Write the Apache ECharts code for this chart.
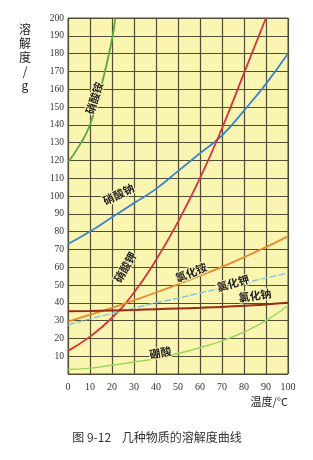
<!DOCTYPE html>
<html>
<head>
<meta charset="utf-8">
<script src="https://cdn.jsdelivr.net/npm/echarts@6/dist/echarts.min.js"></script>
<style>
	html, body { margin: 0; padding: 0; background: #fff; }
	#chart { width: 313px; height: 460px; }
</style>
</head>
<body>
<div id="chart"></div>
<script>
	/* temperature points, degrees C */
	var temps = [0, 10, 20, 30, 40, 50, 60, 70, 80, 90, 100];
	var xTicks = ['0', '10', '20', '30', '40', '50', '60', '70', '80', '90', '100'];

	/* solubility values (g) */
	var nh4no3 = [[0, 119], [5, 128], [10, 140], [15, 161], [20, 188], [21.5, 200]];
	var nano3 = [73, 80, 88, 96, 104, 114, 124, 134, 148, 163, 180];
	var kno3 = [13, 21, 31.6, 45.8, 64, 85.5, 110, 138, 169, 200];
	var nh4cl = [29.4, 33.3, 37.2, 41.4, 45.8, 50.4, 55.2, 60.2, 65.6, 71.3, 77.3];
	var kcl = [27.6, 31, 34, 37, 40, 42.6, 45.5, 48.3, 51.1, 54, 56.7];
	var nacl = [35.2, 35.4, 35.7, 36, 36.4, 36.8, 37.2, 37.7, 38.4, 39.1, 40];
	var boric = [2.5, 3.3, 5, 6.7, 8.7, 11.5, 14.8, 18.6, 23.6, 30, 38.5];

	/* curve names and where their labels sit, in data coords: [x, y, rotation] */
	var names = ['硝酸铵', '硝酸钠', '硝酸钾', '氯化铵', '氯化钾', '氯化钠', '硼酸'];
	var labelSpots = [[12, 155, 72], [23, 101, 26], [26, 60, 60], [56, 57, 22], [75, 51, 16], [85, 44, 8], [42, 12, 10]];

	function pair(values) {
		var out = [];
		for (var i = 0; i < values.length; i++) {
			out.push([temps[i], values[i]]);
		}
		return out;
	}

	function curve(name, data, color, width, dash) {
		return {
			name : name,
			type : 'line',
			data : data,
			smooth : true,
			symbol : 'none',
			lineStyle : { color : color, width : width, type : dash || 'solid' },
			z : 5
		};
	}

	var chart = echarts.init(document.getElementById('chart'));
	chart.setOption({
		animation : false,
		grid : {
			left : 68, right : 25, top : 18, bottom : 86,
			show : true,
			backgroundColor : '#fbf5b2',
			borderColor : '#55533a',
			borderWidth : 1
		},
		xAxis : {
			type : 'value', min : 0, max : 100, interval : 10,
			axisLine : { show : false },
			axisTick : { show : false },
			axisLabel : {
				color : '#333', fontSize : 10, fontFamily : 'Liberation Serif', margin : 8,
				formatter : function(v) { return xTicks[v / 10]; }
			},
			splitLine : { lineStyle : { color : '#4f4d33', width : 1.2 } }
		},
		yAxis : {
			type : 'value', min : 0, max : 200, interval : 10,
			axisLine : { show : false },
			axisTick : { show : false },
			axisLabel : {
				color : '#333', fontSize : 9.5, fontFamily : 'Liberation Serif', margin : 4,
				formatter : function(v) { return v === 0 ? '' : String(v); }
			},
			splitLine : { lineStyle : { color : '#4f4d33', width : 1.2 } }
		},
		series : [
			curve(names[0], nh4no3, '#5aa83a', 1.8),
			curve(names[1], pair(nano3), '#3a84c8', 1.8),
			curve(names[2], pair(kno3), '#d6333c', 1.8),
			curve(names[3], pair(nh4cl), '#e8892c', 1.8),
			curve(names[4], pair(kcl), '#86c8cc', 1.4, [7, 2]),
			curve(names[5], pair(nacl), '#982c16', 2),
			curve(names[6], pair(boric), '#9cd65e', 1.5)
		]
	});

	/* curve labels, placed from data coordinates */
	var elements = [];
	for (var i = 0; i < names.length; i++) {
		var spot = labelSpots[i];
		var p = chart.convertToPixel({ gridIndex : 0 }, [spot[0], spot[1]]);
		elements.push({
			type : 'text', x : p[0], y : p[1],
			rotation : spot[2] * Math.PI / 180,
			style : {
				text : names[i], fill : '#222', fontSize : 11, fontWeight : 'bold',
				fontFamily : 'Noto Sans CJK SC', align : 'center', verticalAlign : 'middle',
				stroke : '#fbf5b2', lineWidth : 2
			},
			z : 10
		});
	}
	elements.push({
		type : 'text', x : 25, y : 22,
		style : { text : '溶\n解\n度\n/\ng', fill : '#222', fontSize : 12, lineHeight : 14,
			fontFamily : 'Noto Sans CJK SC', align : 'center' }
	});
	elements.push({
		type : 'text', x : 288, y : 402,
		style : { text : '温度/°C', fill : '#222', fontSize : 11,
			fontFamily : 'Noto Sans CJK SC', align : 'right', verticalAlign : 'middle' }
	});
	elements.push({
		type : 'text', x : 157, y : 437,
		style : { text : '图 9-12    几种物质的溶解度曲线', fill : '#333', fontSize : 12,
			fontFamily : 'Noto Sans CJK SC', align : 'center', verticalAlign : 'middle' }
	});
	chart.setOption({ graphic : { elements : elements } });
</script>
</body>
</html>
